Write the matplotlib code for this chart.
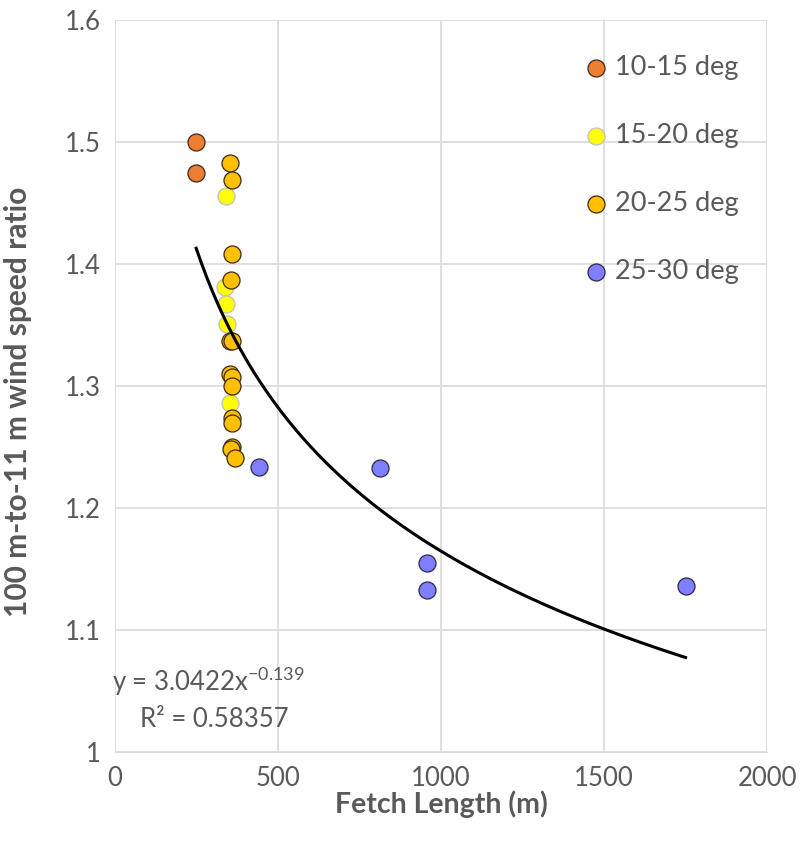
import numpy as np
import matplotlib.pyplot as plt

plt.rcParams['font.family'] = ['Lato', 'DejaVu Sans']
plt.rcParams['mathtext.default'] = 'regular'

# fetch length (m) and 100m/11m wind speed ratio per direction bin
x_10_15 = [249, 249]
y_10_15 = [1.500, 1.475]

x_15_20 = [339, 336, 339, 342, 352]
y_15_20 = [1.456, 1.381, 1.367, 1.351, 1.286]

x_20_25 = [352, 360, 360, 355, 352, 360, 352, 360, 360, 360, 360, 360, 355, 367]
y_20_25 = [1.483, 1.469, 1.408, 1.387, 1.337, 1.337, 1.310, 1.307, 1.300,
           1.274, 1.270, 1.250, 1.248, 1.241]

x_25_30 = [442, 812, 957, 957, 1750]
y_25_30 = [1.234, 1.233, 1.155, 1.133, 1.136]

# power trendline coefficients
a_fit = 3.0422
b_fit = -0.139

fig = plt.figure(figsize=(8.01, 8.41), dpi=100)
ax = fig.add_axes([0.1436, 0.1058, 0.8140, 0.8704])

ms = 150
ax.scatter(x_10_15, y_10_15, s=ms, c='#ED7D31', edgecolors='#3a2a20', linewidths=0.9, label='10-15 deg', zorder=3)
ax.scatter(x_15_20, y_15_20, s=ms, c='#FFFF00', edgecolors='#BFBFBF', linewidths=0.9, label='15-20 deg', zorder=3)
ax.scatter(x_20_25, y_20_25, s=ms, c='#FFC000', edgecolors='#3a2a10', linewidths=0.9, label='20-25 deg', zorder=3)
ax.scatter(x_25_30, y_25_30, s=ms, c='#7F7FFF', edgecolors='#2a2a40', linewidths=0.9, label='25-30 deg', zorder=3)

xs = np.linspace(min(x_10_15), max(x_25_30), 200)
ax.plot(xs, a_fit * xs ** b_fit, color='black', lw=2.2, zorder=4)

ax.set_xlim(0, 2000)
ax.set_ylim(1.0, 1.6)
ax.set_xticks([0, 500, 1000, 1500, 2000])
ax.set_yticks([1.0, 1.1, 1.2, 1.3, 1.4, 1.5, 1.6])
ax.set_yticklabels(['1', '1.1', '1.2', '1.3', '1.4', '1.5', '1.6'])
ax.grid(True, color='#D9D9D9', lw=1.2)
ax.set_axisbelow(True)
for s in ['top', 'right', 'left']:
    ax.spines[s].set_visible(False)
ax.spines['bottom'].set_color('#D9D9D9')
ax.tick_params(length=0, labelsize=18.5, labelcolor='#595959', pad=10)

ax.set_xlabel('Fetch Length (m)', fontsize=20.5, fontweight='bold', color='#595959')
ax.set_ylabel('100 m-to-11 m wind speed ratio', fontsize=21.5, fontweight='bold', color='#595959')
ax.xaxis.set_label_coords(0.5, -0.052)
ax.yaxis.set_label_coords(-0.128, 0.478)

ax.text(-8, 1.058, r'y = 3.0422x$^{-0.139}$', fontsize=18.5, color='#595959', ha='left', va='center')
ax.text(78, 1.027, 'R² = 0.58357', fontsize=18.5, color='#595959', ha='left', va='center')

leg = ax.legend(loc='upper left', bbox_to_anchor=(0.680, 0.985), frameon=False,
                fontsize=19.5, labelspacing=1.58, handlelength=1.0, handletextpad=0.2)
for t in leg.get_texts():
    t.set_color('#595959')

fig.savefig('out.png', dpi=100)
